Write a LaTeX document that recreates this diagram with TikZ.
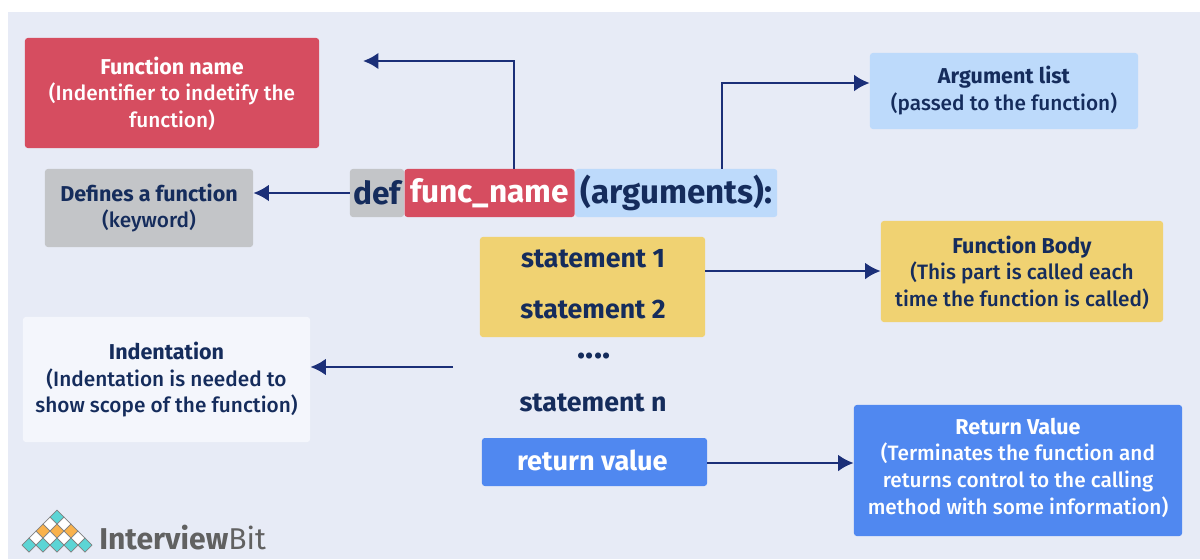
\documentclass[tikz,border=0pt]{standalone}
\usepackage{fontspec}
\setmainfont{Fira Sans}
\newfontfamily\medfont{Fira Sans Medium}
\usetikzlibrary{positioning}
\usetikzlibrary{arrows.meta}

\definecolor{bgcol}{HTML}{E7EBF6}
\definecolor{navy}{HTML}{152C5C}
\definecolor{arrowcol}{HTML}{1B2F78}
\definecolor{redbox}{HTML}{D64D60}
\definecolor{greybox}{HTML}{C3C5C8}
\definecolor{bluebox}{HTML}{BDDAFB}
\definecolor{yellowbox}{HTML}{F0D272}
\definecolor{paleBox}{HTML}{F4F6FC}
\definecolor{returnbox}{HTML}{5088F0}
\definecolor{logoteal}{HTML}{5CD5D5}
\definecolor{logoorange}{HTML}{F9B24C}

\newcommand{\boxhead}[1]{{\fontsize{15.3}{19}\selectfont\rmfamily\bfseries #1}}
% struts to nudge a text block inside its box
\newcommand{\nudgedown}[1]{\rule{0pt}{#1}}
\newcommand{\nudgeup}[1]{\rule[-#1]{0pt}{0pt}}

\begin{document}
\begin{tikzpicture}[
    x=0.025cm, y=-0.025cm,
    box/.style = {rounded corners=2pt, text=navy, align=center, inner sep=0pt, font=\fontsize{14.8}{19}\medfont},
    code/.style = {box, font=\fontsize{22.5}{26}\rmfamily\bfseries, minimum height=1.2cm},
    stmt/.style = {text=navy, inner sep=0pt, font=\fontsize{19}{23}\selectfont\bfseries},
    link/.style = {draw=arrowcol, line width=2.1pt, -{Latex[length=11pt,width=12pt]}}
]
\useasboundingbox (0,0) rectangle (1200,559);
\fill[white] (0,0) rectangle (1200,559);
\fill[bgcol] (8,12) rectangle (1200,559);

% boxes round the outside
\node[box, fill=redbox, text=white, minimum width=7.35cm, minimum height=2.75cm] (funcbox) at (172,93) {\nudgedown{13.6pt}\boxhead{Function name}\\(Indentifier to indetify the\\function)};
\node[box, fill=greybox, minimum width=5.2cm, minimum height=1.95cm] (keybox) at (149,208) {\nudgedown{12.6pt}\boxhead{Defines a function}\\(keyword)};
\node[box, fill=bluebox, minimum width=6.7cm, minimum height=1.9cm] (argbox) at (1004,91) {\boxhead{Argument list}\\(passed to the function)\nudgeup{4pt}};
\node[box, fill=yellowbox, minimum width=7.05cm, minimum height=2.525cm] (bodybox) at (1022,271.5) {\nudgedown{14.3pt}\boxhead{Function Body}\\(This part is called each\\time the function is called)};
\node[box, fill=paleBox, minimum width=7.175cm, minimum height=3.125cm] (indentbox) at (166.5,379.5) {\nudgedown{12.6pt}\boxhead{Indentation}\\(Indentation is needed to\\show scope of the function)};
\node[box, fill=returnbox, text=white, minimum width=8.2cm, minimum height=3.275cm] (retbox) at (1018,470.5) {\boxhead{Return Value}\\(Terminates the function and\\returns control to the calling\\method with some information)\nudgeup{6.5pt}};

% the function itself
\node[code, fill=greybox, minimum width=1.35cm] (defword) at (377,193) {def};
\node[code, fill=redbox, text=white, minimum width=4.25cm, right=0pt of defword] (funcword) {func\_name};
\node[code, fill=bluebox, minimum width=5.05cm, right=0pt of funcword, font=\fontsize{23.6}{26}\rmfamily\bfseries] (argword) {(arguments):};

\node[box, fill=yellowbox, minimum width=5.625cm, minimum height=2.5cm] (stmtbox) at (592.5,287) {};
\node[stmt] (stmta) at (593,259) {statement 1};
\node[stmt] (stmtb) at (593,310) {statement 2};
\node[stmt] (dots) at (594,356) {\fontsize{24}{23}\selectfont ....};
\node[stmt] (stmtn) at (593,403) {statement n};
\node[box, fill=returnbox, text=white, minimum width=5.625cm, minimum height=1.2cm, font=\fontsize{19.3}{23}\rmfamily\bfseries] (retword) at (594.5,462) {\raisebox{2.2pt}{return value}\hspace{3pt}};

% free ends
\coordinate (funcend) at (363,61);
\coordinate (indentstart) at (453,367);

% arrows
\draw[link] (funcword.north -| 514,0) |- (funcend);
\draw[link] (argword.north -| 722,0) |- (argbox.west |- 0,83);
\draw[link] (defword) -- (keybox.east |- defword);
\draw[link] (stmtbox.east |- 0,271) -- (bodybox.west |- 0,271);
\draw[link] (indentstart) -- (indentbox.east |- indentstart);
\draw[link] (retword.east |- 0,463) -- (retbox.west |- 0,463);

% logo
\foreach \row/\rowy/\rowcol/\cells in {1/517/logoteal/{57}, 2/524/white/{50,64}, 3/531/logoorange/{43,57,71}, 4/538/white/{36,50,64,78}, 5/545/logoteal/{29,43,57,71,85}} {
    \foreach \cellx in \cells {
        \draw[fill=\rowcol, draw=gray, line width=0.5pt] (\cellx,\rowy-7) -- (\cellx+7,\rowy) -- (\cellx,\rowy+7) -- (\cellx-7,\rowy) -- cycle;
    }
}
\node[text=black!62, inner sep=0pt, anchor=west, font=\fontsize{21.4}{26}\selectfont] (logotext) at (99,538) {\textbf{Interview}Bit};

\end{tikzpicture}
\end{document}
